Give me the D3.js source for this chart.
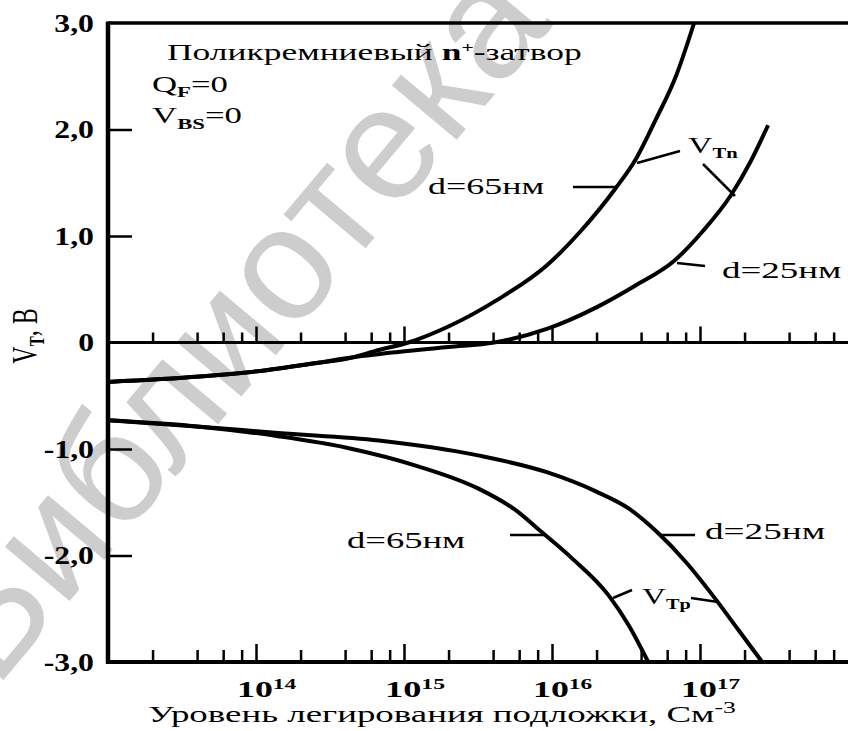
<!DOCTYPE html>
<html>
<head>
<meta charset="utf-8">
<script src="https://cdn.jsdelivr.net/npm/d3@7"></script>
<style>
  body { margin: 0; background: #fff; }
  svg { display: block; }
  text { font-family: "Liberation Serif", "Times New Roman", serif; fill: #000; }
</style>
</head>
<body>
<svg id="chart" width="848" height="731"></svg>
<script>
// threshold voltage vs substrate doping; points are [log10 N (cm^-3), V]
const vtn65 = [[13.0,-0.37],[13.62,-0.32],[14.07,-0.26],[14.42,-0.19],[14.62,-0.15],[14.83,-0.07],[15.03,0.0],
  [15.3,0.15],[15.63,0.4],[15.97,0.73],[16.19,1.04],[16.42,1.43],[16.57,1.73],[16.7,2.09],[16.84,2.51],[16.96,3.0]]
const vtn25 = [[13.0,-0.37],[13.62,-0.32],[14.07,-0.26],[14.42,-0.19],[14.62,-0.146],[14.96,-0.089],[15.3,-0.042],
  [15.61,0.0],[15.97,0.13],[16.3,0.33],[16.57,0.54],[16.82,0.76],[17.02,1.047],[17.21,1.385],[17.34,1.695],[17.46,2.04]]
const vtp65 = [[13.0,-0.73],[13.62,-0.79],[14.15,-0.88],[14.62,-0.99],[15.09,-1.16],[15.5,-1.37],[15.75,-1.57],
  [15.93,-1.78],[16.13,-2.02],[16.38,-2.37],[16.52,-2.66],[16.65,-3.0]]
const vtp25 = [[13.0,-0.73],[13.62,-0.79],[14.15,-0.85],[14.83,-0.92],[15.5,-1.06],[15.97,-1.22],[16.3,-1.4],
  [16.52,-1.56],[16.71,-1.78],[16.91,-2.07],[17.1,-2.4],[17.26,-2.7],[17.42,-3.0]]

const yTicks = [-3, -2, -1, 0, 1, 2, 3]
const yTickLabels = ['-3,0', '-2,0', '-1,0', '0', '1,0', '2,0', '3,0']
const xDecades = [14, 15, 16, 17]
const minorMult = [2, 4, 6, 8]

var svg = d3.select('#chart')

var x = d3.scaleLog().domain([1e13, 1e18]).range([108, 848])
var y = d3.scaleLinear().domain([-3, 3]).range([662, 23])

// stretched text: the scan is wider than it is tall
function label (px, py, opts, build) {
  var g = svg.append('g')
  var t = g.append('text').attr('x', 0).attr('y', 0)
    .style('font-size', (opts.size || 24) + 'px')
    .style('font-weight', opts.bold ? 'bold' : 'normal')
  build(t)
  var w = t.node().getBBox().width
  var sx = opts.width ? opts.width / w : (opts.sx || 1.4)
  var left = opts.anchor === 'end' ? px - w * sx : px
  g.attr('transform', 'translate(' + left + ',' + py + ') scale(' + sx + ',1)')
  return g
}

function sub (t, s, dy, size, bold) {
  t.append('tspan').attr('dy', dy).style('font-size', size + 'px')
    .style('font-weight', bold ? 'bold' : 'normal').text(s)
}

// watermark
svg.append('text')
  .attr('transform', 'translate(-5,690) rotate(-50)')
  .style('font-family', '"Liberation Sans", Arial, sans-serif')
  .style('font-size', '160px')
  .style('fill', '#cdcdcd')
  .text('Библиотека')

// frame lines
svg.append('line').attr('x1', 108).attr('x2', 848).attr('y1', y(3)).attr('y2', y(3))
  .style('stroke', '#000').style('stroke-width', 3.5)
svg.append('line').attr('x1', 108).attr('x2', 848).attr('y1', y(0)).attr('y2', y(0))
  .style('stroke', '#000').style('stroke-width', 3)
svg.append('line').attr('x1', 108).attr('x2', 848).attr('y1', y(-3)).attr('y2', y(-3))
  .style('stroke', '#000').style('stroke-width', 4)
svg.append('line').attr('x1', 108).attr('x2', 108).attr('y1', y(3) - 1.5).attr('y2', y(-3) + 2)
  .style('stroke', '#000').style('stroke-width', 4.5)

var minorTicks = []
for (var e = 13; e <= 17; e++) {
  minorMult.forEach(function (m) { minorTicks.push(m * Math.pow(10, e)) })
}
var majorTicks = xDecades.map(function (d) { return Math.pow(10, d) })

function tickRow (yPos, minorLen, majorLen) {
  [[minorTicks, minorLen], [majorTicks, majorLen]].forEach(function (p) {
    svg.append('g')
      .attr('transform', 'translate(0,' + yPos + ')')
      .call(d3.axisTop(x).tickValues(p[0]).tickSize(p[1]).tickFormat(''))
      .call(function (g) { g.select('.domain').remove() })
      .selectAll('line').style('stroke', '#000').style('stroke-width', 2.5)
  })
}
tickRow(y(-3), 12, 18)
tickRow(y(0), 10, 16)

// y ticks pointing inward
svg.append('g')
  .attr('transform', 'translate(108,0)')
  .call(d3.axisRight(y).tickValues([-2, -1, 1, 2]).tickSize(24).tickFormat(''))
  .call(function (g) { g.select('.domain').remove() })
  .selectAll('line').style('stroke', '#000').style('stroke-width', 2.5)

yTicks.forEach(function (v, i) {
  label(94, y(v) + 8.5, { anchor: 'end', bold: true, size: 25, sx: 1.27 }, function (t) {
    t.text(yTickLabels[i])
  })
})

// x tick labels
xDecades.forEach(function (d) {
  label(x(Math.pow(10, d)) - 19, 697, { bold: true, size: 23, width: 60 }, function (t) {
    t.append('tspan').text('10')
    sub(t, String(d), -8, 15, true)
  })
})

// axis titles
label(148, 722, { size: 23, width: 588 }, function (t) {
  t.append('tspan').text('Уровень легирования подложки, См')
  sub(t, '-3', -9, 16, false)
})

var gy = svg.append('g').attr('transform', 'translate(37,336) scale(1.45,1) rotate(-90)')
var ty = gy.append('text').attr('text-anchor', 'middle').style('font-size', '24px')
ty.append('tspan').text('V')
sub(ty, 'T', 5, 15, true)
ty.append('tspan').attr('dy', -5).text(', B')

// curves
var line = d3.line()
  .x(function (d) { return x(Math.pow(10, d[0])) })
  .y(function (d) { return y(d[1]) })
  .curve(d3.curveMonotoneX)

;[vtn65, vtn25, vtp65, vtp25].forEach(function (s) {
  svg.append('path').datum(s).attr('d', line)
    .style('fill', 'none').style('stroke', '#000').style('stroke-width', 4)
    .style('stroke-linejoin', 'round')
})

// leader lines
var leaders = [
  [573, 187, 618, 187], [637, 163, 680, 151], [703, 164, 735, 196], [677, 263, 705, 266],
  [510, 535, 545, 535], [660, 535, 695, 535], [613, 598, 632, 590], [691, 598, 718, 602]
]
leaders.forEach(function (l) {
  svg.append('line').attr('x1', l[0]).attr('y1', l[1]).attr('x2', l[2]).attr('y2', l[3])
    .style('stroke', '#000').style('stroke-width', 2.5)
})

// annotations
label(167, 60, { size: 23, width: 415 }, function (t) {
  t.append('tspan').text('Поликремниевый ')
  t.append('tspan').style('font-weight', 'bold').text('n')
  sub(t, '+', -8, 14, true)
  t.append('tspan').attr('dy', 8).text('-затвор')
})
label(152, 92, { size: 23, width: 76 }, function (t) {
  t.append('tspan').text('Q')
  sub(t, 'F', 5, 15, true)
  t.append('tspan').attr('dy', -5).text('=0')
})
label(152, 123, { size: 23, width: 90 }, function (t) {
  t.append('tspan').text('V')
  sub(t, 'BS', 6, 15, true)
  t.append('tspan').attr('dy', -6).text('=0')
})
label(688, 153, { size: 23, width: 50 }, function (t) {
  t.append('tspan').text('V')
  sub(t, 'Tn', 5, 14, true)
})
label(642, 604, { size: 23, width: 49 }, function (t) {
  t.append('tspan').text('V')
  sub(t, 'Tp', 5, 14, true)
})
label(428, 194, { size: 23, width: 117 }, function (t) { t.text('d=65нм') })
label(722, 278, { size: 23, width: 120 }, function (t) { t.text('d=25нм') })
label(347, 548, { size: 23, width: 119 }, function (t) { t.text('d=65нм') })
label(705, 539, { size: 23, width: 121 }, function (t) { t.text('d=25нм') })
</script>
</body>
</html>
